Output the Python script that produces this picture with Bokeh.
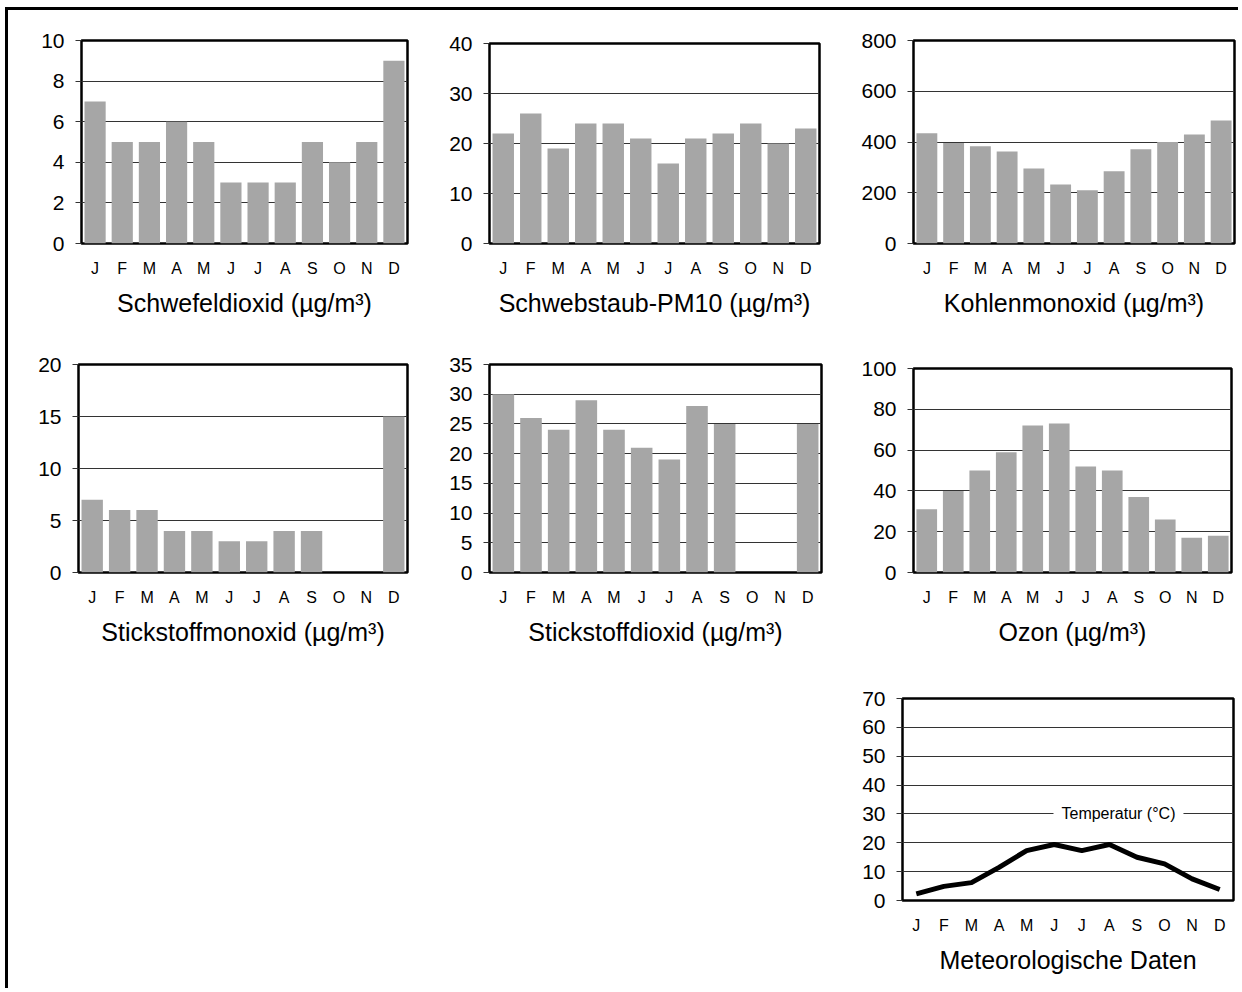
from bokeh.plotting import figure
from bokeh.models import FixedTicker, Label, Spacer, Range1d
from bokeh.layouts import column, row
from bokeh.embed import file_html
from bokeh.resources import INLINE

months = ["J", "F", "M", "A", "M", "J", "J", "A", "S", "O", "N", "D"]
so2 = [7, 5, 5, 6, 5, 3, 3, 3, 5, 4, 5, 9]
pm10 = [22, 26, 19, 24, 24, 21, 16, 21, 22, 24, 20, 23]
co = [434, 396, 383, 363, 296, 233, 210, 285, 371, 400, 430, 485]
no = [7, 6, 6, 4, 4, 3, 3, 4, 4, 0, 0, 15]
no2 = [30, 26, 24, 29, 24, 21, 19, 28, 25, 0, 0, 25]
o3 = [31, 40, 50, 59, 72, 73, 52, 50, 37, 26, 17, 18]
temp = [2.3, 4.9, 6.2, 11.5, 17.3, 19.4, 17.3, 19.4, 15.0, 12.7, 7.5, 3.8]

titles = ["Schwefeldioxid (µg/m³)", "Schwebstaub-PM10 (µg/m³)", "Kohlenmonoxid (µg/m³)",
          "Stickstoffmonoxid (µg/m³)", "Stickstoffdioxid (µg/m³)", "Ozon (µg/m³)",
          "Meteorologische Daten"]
temp_label = "Temperatur (°C)"

FONT = "Liberation Sans"
BAR = "#a6a6a6"
xs = list(range(1, len(months) + 1))


def make_fig(title, w, h, bl, br, bt, bb, ymax, step):
    p = figure(width=w, height=h, x_range=Range1d(0.5, 12.5), y_range=Range1d(0, ymax),
               output_backend="svg", toolbar_location=None,
               min_border_left=bl, min_border_right=br, min_border_top=bt, min_border_bottom=bb,
               outline_line_color="black", outline_line_width=2.5, outline_line_alpha=1.0,
               background_fill_color="white", border_fill_color="white")
    p.xaxis.ticker = FixedTicker(ticks=xs)
    p.xaxis.major_label_overrides = {x: m for x, m in zip(xs, months)}
    p.xaxis.axis_line_color = None
    p.xaxis.major_tick_line_color = None
    p.xaxis.minor_tick_line_color = None
    p.xaxis.major_label_standoff = 10
    p.xaxis.major_label_text_font = FONT
    p.xaxis.major_label_text_font_size = "16px"
    p.xaxis.major_label_text_color = "black"
    p.xaxis.axis_label = title
    p.xaxis.axis_label_text_font = FONT
    p.xaxis.axis_label_text_font_size = "25px"
    p.xaxis.axis_label_text_font_style = "normal"
    p.xaxis.axis_label_text_color = "black"
    p.xaxis.axis_label_standoff = 9

    p.yaxis.ticker = FixedTicker(ticks=list(range(0, ymax + 1, step)))
    p.yaxis.axis_line_color = None
    p.yaxis.major_tick_in = 0
    p.yaxis.major_tick_out = 6
    p.yaxis.major_tick_line_color = "#333333"
    p.yaxis.minor_tick_line_color = None
    p.yaxis.major_label_standoff = 11
    p.yaxis.major_label_text_font = FONT
    p.yaxis.major_label_text_font_size = "21px"
    p.yaxis.major_label_text_color = "black"

    p.xgrid.visible = False
    p.ygrid.grid_line_color = "#333333"
    p.ygrid.grid_line_width = 1
    return p


def bars(p, vals):
    p.vbar(x=xs, top=vals, width=0.78, bottom=0, fill_color=BAR, line_color=None)
    return column(p)


f1 = bars(make_fig(titles[0], 422, 325, 73, 23, 30, 92, 10, 2), so2)
f2 = bars(make_fig(titles[1], 420, 325, 59, 31, 33, 92, 40, 10), pm10)
f3 = bars(make_fig(titles[2], 388, 325, 63, 4, 30, 92, 800, 200), co)
f4 = bars(make_fig(titles[3], 422, 330, 70, 23, 29, 93, 20, 5), no)
f5 = bars(make_fig(titles[4], 420, 330, 59, 29, 29, 93, 35, 5), no2)
f6 = bars(make_fig(titles[5], 388, 330, 63, 7, 33, 93, 100, 20), o3)
f7 = make_fig(titles[6], 388, 323, 52, 5, 33, 88, 70, 10)
f7.line(x=xs, y=temp, line_color="black", line_width=5, line_join="round")
f7.add_layout(Label(x=8.33, y=30, text=temp_label, text_align="center", text_baseline="middle",
                    text_font=FONT, text_font_size="16px", text_color="black",
                    background_fill_color="white", background_fill_alpha=1.0,
                    padding=8))

layout = column(
    row(f1, f2, f3),
    row(f4, f5, f6),
    row(Spacer(width=842, height=323), column(f7)),
    styles={"margin-left": "5px", "margin-top": "7px",
            "border-top": "3px solid black", "border-left": "3px solid black"},
)

open("out.html", "w").write(file_html(layout, INLINE))
